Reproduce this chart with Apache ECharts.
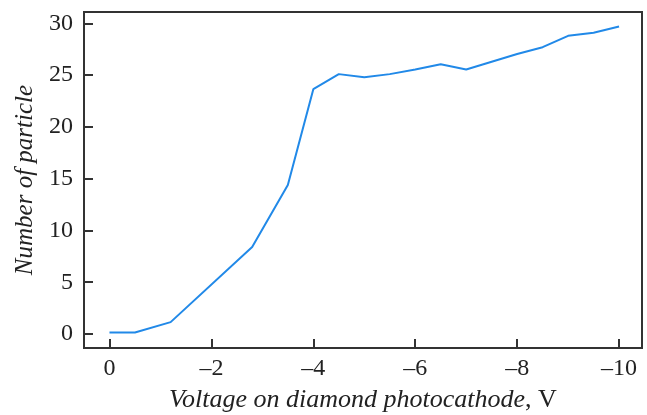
<!DOCTYPE html>
<html>
<head>
<meta charset="utf-8">
<script src="https://cdn.jsdelivr.net/npm/echarts@6/dist/echarts.min.js"></script>
<style>
  html, body { margin: 0; padding: 0; background: #fff; }
  #chart { width: 647px; height: 415px; }
</style>
</head>
<body>
<div id="chart"></div>
<script>
// Voltage on the diamond photocathode, V
const voltage = [0, -0.5, -1.2, -2.8, -3.5, -4, -4.5, -5, -5.5, -6, -6.5, -7, -7.5, -8, -8.5, -9, -9.5, -10];
// Number of particles detected at each voltage
const particles = [0.15, 0.15, 1.15, 8.4, 14.4, 23.65, 25.1, 24.8, 25.1, 25.55, 26.05, 25.55, 26.3, 27.05, 27.7, 28.8, 29.1, 29.7];

const xTicks = [0, -2, -4, -6, -8, -10];
const yTicks = [0, 5, 10, 15, 20, 25, 30];

const serif = '"Liberation Serif", "Times New Roman", serif';
const ink = '#222222';
const frame = '#333333';

const chart = echarts.init(document.getElementById('chart'), null, { renderer: 'canvas' });

chart.setOption({
  animation: false,
  backgroundColor: '#ffffff',
  grid: {
    left: 84, top: 12, right: 5, bottom: 67,
    containLabel: false,
    outerBoundsMode: 'none',
    show: true, borderColor: frame, borderWidth: 2, backgroundColor: 'transparent'
  },
  xAxis: {
    type: 'value',
    inverse: true,
    min: -10.45,
    max: 0.5,
    splitLine: { show: false },
    axisLine: { show: true, onZero: false, lineStyle: { color: frame, width: 2 } },
    axisTick: { show: true, inside: true, length: 9, customValues: xTicks, lineStyle: { color: frame, width: 2 } },
    axisLabel: {
      customValues: xTicks,
      margin: 9,
      color: ink,
      fontFamily: serif,
      fontSize: 24,
      formatter: v => (v < 0 ? '\u2013' + Math.abs(v) : String(v))
    },
    name: '{i|Voltage on diamond photocathode}{r|, V}',
    nameLocation: 'middle',
    nameGap: 39,
    nameTextStyle: {
      rich: {
        i: { fontFamily: serif, fontStyle: 'italic', fontSize: 26, color: ink },
        r: { fontFamily: serif, fontSize: 26, color: ink }
      }
    }
  },
  yAxis: {
    type: 'value',
    min: -1.35,
    max: 31.1,
    splitLine: { show: false },
    axisLine: { show: true, onZero: false, lineStyle: { color: frame, width: 2 } },
    axisTick: { show: true, inside: true, length: 9, customValues: yTicks, lineStyle: { color: frame, width: 2 } },
    axisLabel: {
      customValues: yTicks,
      margin: 11,
      color: ink,
      fontFamily: serif,
      fontSize: 24
    },
    name: 'Number of particle',
    nameLocation: 'middle',
    nameGap: 38,
    nameTextStyle: { fontFamily: serif, fontStyle: 'italic', fontSize: 25, color: ink }
  },
  series: [{
    type: 'line',
    data: voltage.map((v, i) => [v, particles[i]]),
    symbol: 'none',
    lineStyle: { color: '#2189e8', width: 2 }
  }]
});
</script>
</body>
</html>
